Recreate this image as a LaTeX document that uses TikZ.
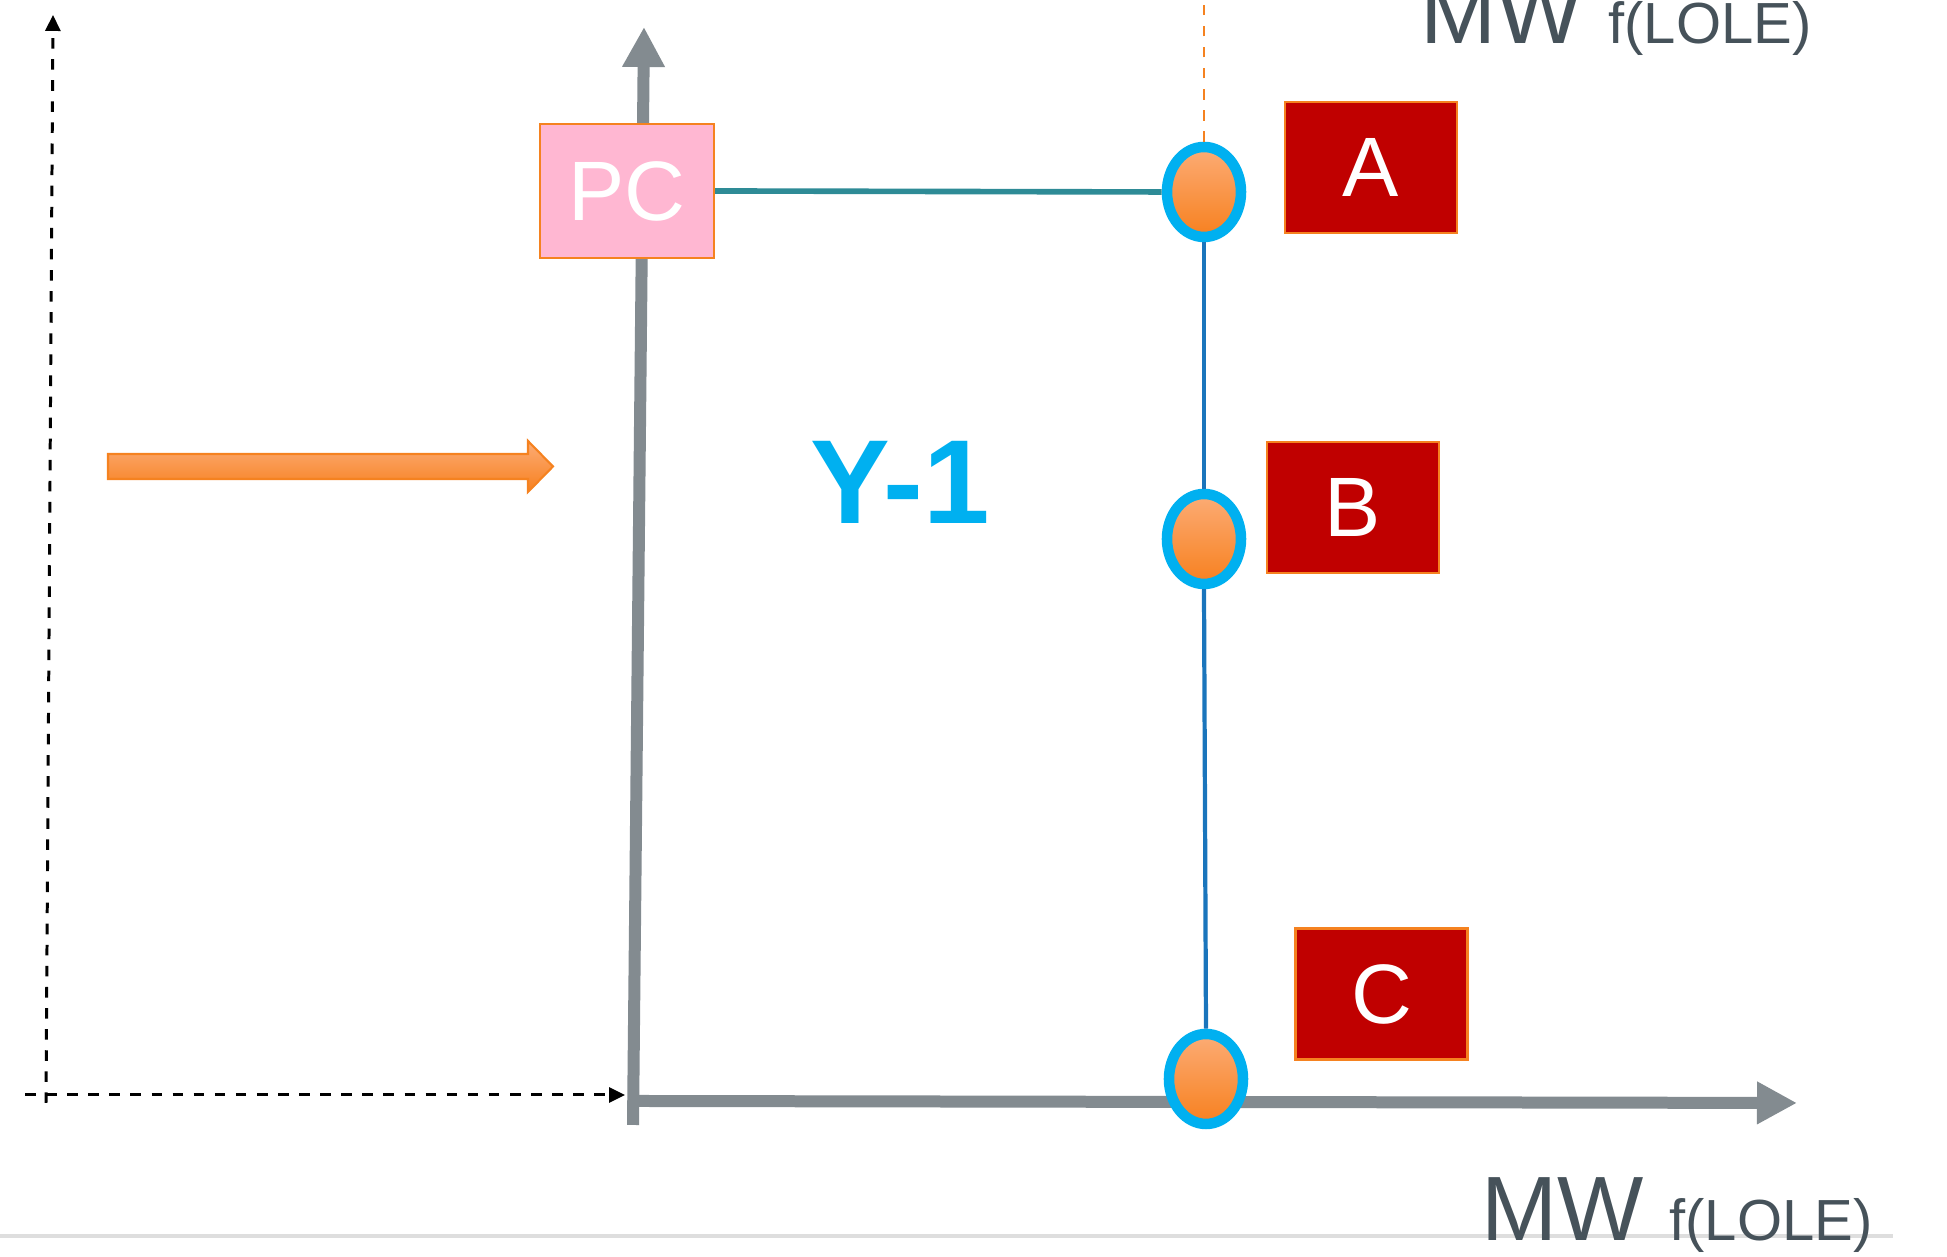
\documentclass[tikz,border=0pt]{standalone}
\usepackage{fontspec}
\setmainfont{Liberation Sans}
\usetikzlibrary{arrows.meta,shapes.geometric}

\definecolor{axisgray}{RGB}{131,139,144}
\definecolor{labelgray}{RGB}{70,82,90}
\definecolor{pcpink}{RGB}{255,183,210}
\definecolor{edgeorange}{RGB}{245,130,32}
\definecolor{boxred}{RGB}{192,0,0}
\definecolor{ringblue}{RGB}{0,176,240}
\definecolor{linkblue}{RGB}{26,117,188}
\definecolor{linkteal}{RGB}{46,139,150}
\definecolor{dotlight}{RGB}{252,172,118}
\definecolor{dotdark}{RGB}{247,128,30}
\definecolor{rulegray}{RGB}{222,222,222}

\begin{document}
\begin{tikzpicture}[
    redbox/.style={draw=edgeorange, line width=0.6pt, fill=boxred, text=white,
        minimum width=1.72cm, minimum height=1.31cm, inner sep=0pt,
        font=\fontsize{24}{28}\selectfont},
    dot/.style={ellipse, draw=ringblue, line width=3pt, top color=dotlight,
        bottom color=dotdark, minimum width=0.74cm, minimum height=0.9cm, inner sep=0pt},
    axislabel/.style={text=labelgray, inner sep=0pt, anchor=base west,
        font=\fontsize{26}{30}\selectfont},
    guide/.style={line width=0.85pt, dash pattern=on 3pt off 3pt,
        -{Triangle[length=0.16cm,width=0.15cm]}},
  ]
    \useasboundingbox (0,0) rectangle (19.47,12.57);

    % Light rule at the bottom
    \draw[rulegray, line width=1pt] (0,0.21) -- (18.93,0.21);

    % Dashed guide axes
    \coordinate (gfoot) at (0.46,1.54);
    \coordinate (gtop) at (0.53,12.42);
    \coordinate (gleft) at (0.25,1.62);
    \coordinate (gright) at (6.25,1.62);
    \draw[guide] (gfoot) -- (gtop);
    \draw[guide] (gleft) -- (gright);

    % Main axes
    \coordinate (yfoot) at (6.33,1.32);
    \coordinate (ytop) at (6.44,12.30);
    \coordinate (xstart) at (6.33,1.56);
    \coordinate (xend) at (17.97,1.54);
    \draw[axisgray, line width=0.12cm, -{Triangle[length=0.4cm,width=0.4cm]}] (yfoot) -- (ytop);
    \draw[axisgray, line width=0.12cm, -{Triangle[length=0.4cm,width=0.4cm]}] (xstart) -- (xend);

    % Axis labels
    \node[axislabel] (toplabel) at (14.20,12.13) {MW \fontsize{16.5}{18}\selectfont f(LOLE)};
    \node[axislabel] (bottomlabel) at (14.81,0.16) {MW \fontsize{16.5}{18}\selectfont f(LOLE)};

    % Shift arrow
    \draw[edgeorange, line width=0.6pt, top color=dotlight, bottom color=dotdark]
        (1.08,8.03) -- (5.28,8.03) -- (5.28,8.16) -- (5.53,7.905)
        -- (5.28,7.65) -- (5.28,7.78) -- (1.08,7.78) -- cycle;

    % Price cap box
    \node[draw=edgeorange, line width=0.6pt, fill=pcpink, text=white, minimum width=1.74cm,
        minimum height=1.34cm, inner sep=0pt, font=\fontsize{24}{28}\selectfont]
        (pc) at (6.27,10.66) {PC};

    % Points on the curve
    \node[dot] (ptA) at (12.04,10.65) {};
    \node[dot] (ptB) at (12.04,7.18) {};
    \node[dot] (ptC) at (12.06,1.78) {};
    \coordinate (dashtop) at (12.04,12.57);

    % Links
    \draw[edgeorange, line width=0.8pt, dash pattern=on 3pt off 3pt] (ptA.north) -- (dashtop);
    \draw[linkteal, line width=1.6pt] (pc.east) -- (ptA.west);
    \draw[linkblue, line width=1.2pt] (ptA.south) -- (ptB.north);
    \draw[linkblue, line width=1.2pt] (ptB.south) -- (ptC.north);

    % Point labels
    \node[redbox] (boxA) at (13.71,10.895) {A};
    \node[redbox] (boxB) at (13.53,7.495) {B};
    \node[redbox] (boxC) at (13.815,2.63) {C};

    % Year label
    \node[text=ringblue, font=\bfseries\fontsize{34}{40}\selectfont] (year) at (9.00,7.75) {Y-1};
\end{tikzpicture}
\end{document}
